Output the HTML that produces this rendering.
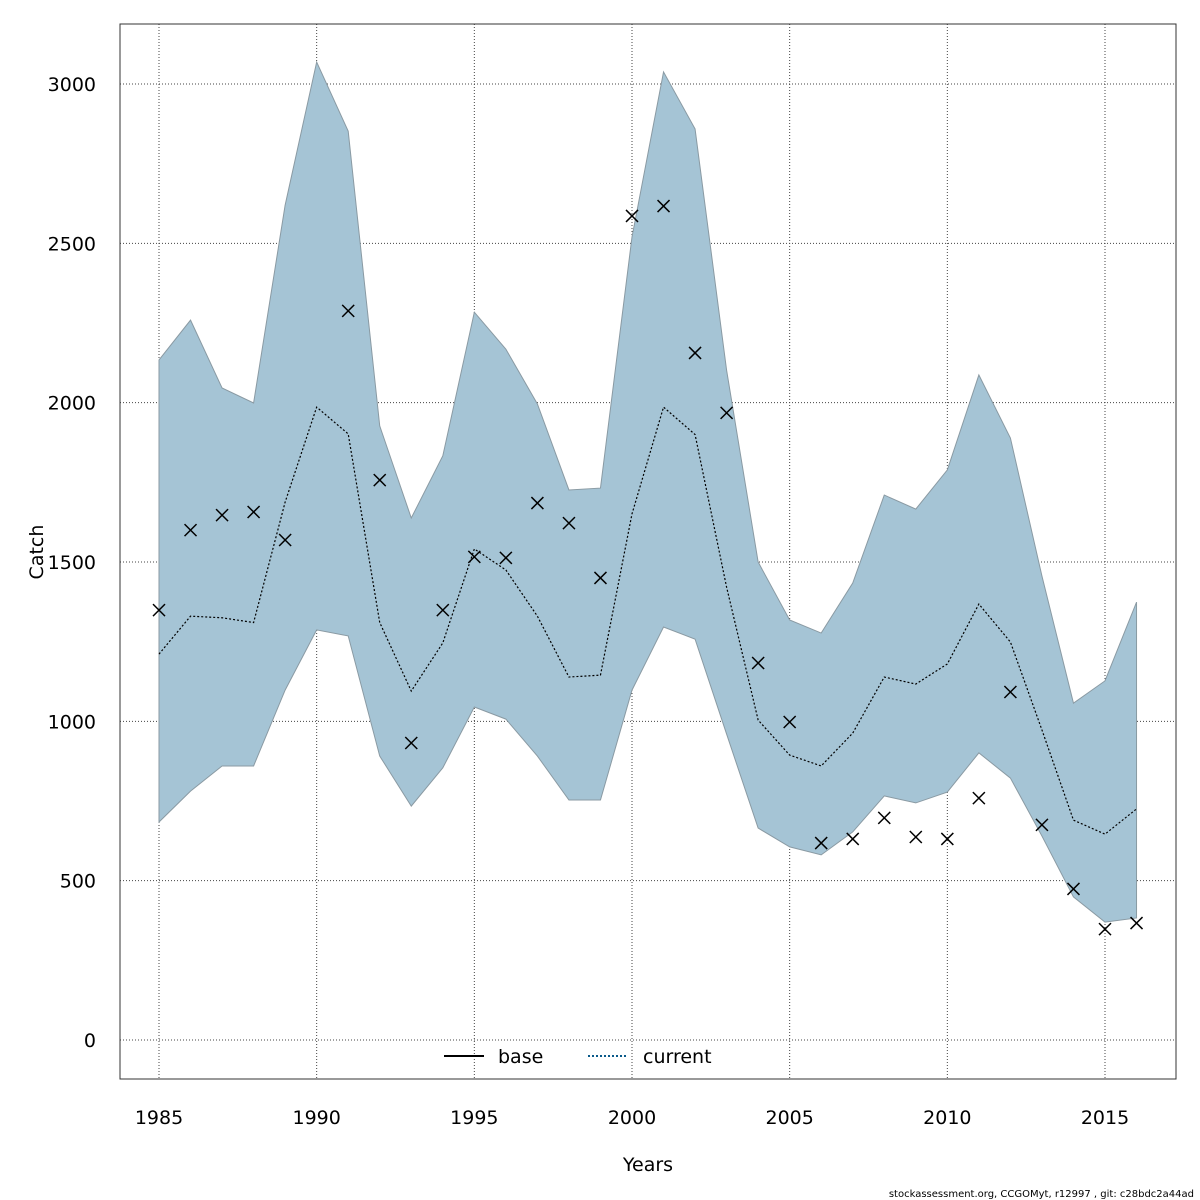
<!DOCTYPE html>
<html><head><meta charset="utf-8"><style>
body{margin:0;background:#fff}
svg{display:block;font-family:"DejaVu Sans","Liberation Sans",sans-serif}
</style></head><body>
<svg id="chart" width="1200" height="1200">
<rect x="0" y="0" width="1200" height="1200" fill="#fff"/>
<g id="grid"></g>
<g id="band"></g>
<g id="lines"></g>
<g id="obs"></g>
<g id="axes"></g>
<rect x="120" y="24" width="1056" height="1055" fill="none" stroke="#333" stroke-width="1"/>
<text x="648" y="1171" font-size="19" text-anchor="middle">Years</text>
<text x="43" y="552" font-size="19" text-anchor="middle" transform="rotate(-90 43 552)">Catch</text>
<g>
<line x1="444" y1="1056" x2="484" y2="1056" stroke="#000" stroke-width="2"/>
<text x="498" y="1063" font-size="19">base</text>
<line x1="588" y1="1056" x2="628" y2="1056" stroke="#0a5a8a" stroke-width="2" stroke-dasharray="2,2"/>
<text x="643" y="1063" font-size="19">current</text>
</g>
<text x="1194" y="1197" font-size="10" text-anchor="end">stockassessment.org, CCGOMyt, r12997 , git: c28bdc2a44ad</text>
</svg>
<script>
const years=[1985,1986,1987,1988,1989,1990,1991,1992,1993,1994,1995,1996,1997,1998,1999,2000,2001,2002,2003,2004,2005,2006,2007,2008,2009,2010,2011,2012,2013,2014,2015,2016];
const upper=[2134,2259,2046,1999,2620,3069,2852,1927,1638,1833,2284,2168,1996,1726,1732,2520,3038,2859,2102,1500,1318,1277,1434,1710,1666,1789,2087,1889,1456,1057,1127,1374];
const lower=[684,781,860,860,1098,1287,1268,891,734,854,1045,1007,891,753,753,1098,1296,1258,960,665,606,581,653,766,744,778,901,822,640,449,370,383];
const current=[1211,1330,1325,1310,1688,1986,1902,1310,1095,1246,1541,1475,1330,1139,1145,1651,1986,1900,1421,1004,894,860,963,1139,1117,1180,1368,1249,973,690,646,725];
const obsYears=[1985,1986,1987,1988,1989,1991,1992,1993,1994,1995,1996,1997,1998,1999,2000,2001,2002,2003,2004,2005,2006,2007,2008,2009,2010,2011,2012,2013,2014,2015,2016];
const observed=[1349,1600,1647,1657,1569,2288,1757,932,1349,1516,1513,1685,1622,1450,2586,2617,2156,1968,1183,998,618,631,697,637,631,759,1092,675,474,348,367];
const xTicks=[1985,1990,1995,2000,2005,2010,2015];
const yTicks=[0,500,1000,1500,2000,2500,3000];
const NS="http://www.w3.org/2000/svg";
const X=v=>159+(v-1985)*(946/30);
const Y=v=>1040-v*(956/3000);
function mk(tag,attrs,parent){const e=document.createElementNS(NS,tag);for(const k in attrs)e.setAttribute(k,attrs[k]);parent.appendChild(e);return e;}
const grid=document.getElementById('grid'),axes=document.getElementById('axes');
xTicks.forEach(t=>{
 const l=mk('line',{x1:X(t),x2:X(t),y1:24,y2:1079,stroke:'#444','stroke-width':1,'stroke-dasharray':'1,2'},grid);
 
 
 const tx=mk('text',{x:X(t),y:1124,'font-size':19,'text-anchor':'middle'},axes);tx.textContent=t;
 
 
});
yTicks.forEach(t=>{
 const l=mk('line',{x1:120,x2:1176,y1:Y(t),y2:Y(t),stroke:'#444','stroke-width':1,'stroke-dasharray':'1,2'},grid);
 
 
 const tx=mk('text',{x:96,y:Y(t)+7,'font-size':19,'text-anchor':'end'},axes);tx.textContent=t;
 
 
});
let pts=years.map((y,i)=>X(y)+','+Y(upper[i]));
for(let i=years.length-1;i>=0;i--)pts.push(X(years[i])+','+Y(lower[i]));
const poly=mk('polygon',{points:pts.join(' '),fill:'#a5c4d5',stroke:'#8a9aa3','stroke-width':1},document.getElementById('band'));


const lp=years.map((y,i)=>X(y)+','+Y(current[i])).join(' ');
const bl=mk('polyline',{points:lp,fill:'none',stroke:'#000','stroke-width':1.2,'stroke-dasharray':'2,2'},document.getElementById('lines'));


const og=document.getElementById('obs');
obsYears.forEach((y,i)=>{
 const cx=X(y),cy=Y(observed[i]),s=6;
 const p=mk('path',{d:`M${cx-s},${cy-s}L${cx+s},${cy+s}M${cx-s},${cy+s}L${cx+s},${cy-s}`,stroke:'#000','stroke-width':1.5},og);
 
 
});
</script>
</body></html>
